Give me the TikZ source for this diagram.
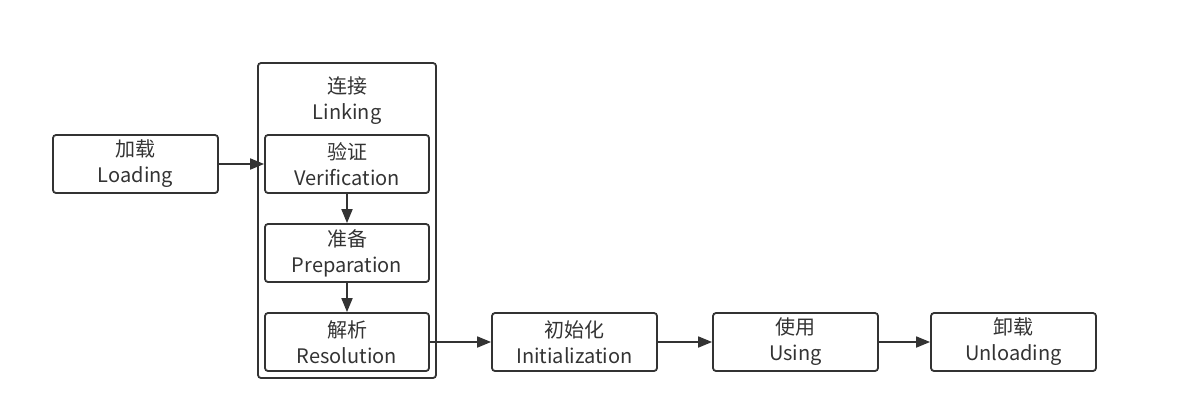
\documentclass[tikz,border=0pt]{standalone}
\usepackage{fontspec}
\setmainfont{Noto Sans CJK SC}
\usetikzlibrary{arrows.meta}
\definecolor{ln}{HTML}{333333}
\definecolor{tx}{HTML}{333333}
\tikzset{
  stage/.style={draw=ln, line width=1.8pt, rounded corners=3pt, minimum width=165pt, minimum height=58pt, inner sep=0pt, align=center, text=tx, font=\fontsize{20}{26}\selectfont},
  group/.style={draw=ln, line width=1.8pt, rounded corners=3pt, inner sep=0pt},
  conn/.style={draw=ln, line width=1.8pt, -{Triangle[length=14pt,width=11pt]}},
  lbl/.style={inner sep=0pt, align=center, text=tx, font=\fontsize{20}{26}\selectfont}
}
\begin{document}
\begin{tikzpicture}[x=1pt,y=-1pt]
\useasboundingbox (0,0) rectangle (1188,405);
\node[group, minimum width=178pt, minimum height=315pt] (link) at (347,220.5) {};
\node[lbl] (linklbl) at (347,101) {连接\\Linking};
\node[stage] (load) at (135.5,164) {加载\\Loading};
\node[stage, minimum width=164pt] (ver) at (347,164) {验证\\Verification};
\node[stage, minimum width=164pt] (prep) at (347,253) {准备\\Preparation};
\node[stage, minimum width=164pt] (res) at (347,342) {解析\\Resolution};
\node[stage] (init) at (574.5,342) {初始化\\Initialization};
\node[stage] (use) at (795.5,342) {使用\\Using};
\node[stage] (unl) at (1013.5,342) {卸载\\Unloading};
\draw[conn] (load) -- (ver);
\draw[conn] (ver) -- (prep);
\draw[conn] (prep) -- (res);
\draw[conn] (res) -- (init);
\draw[conn] (init) -- (use);
\draw[conn] (use) -- (unl);
\end{tikzpicture}
\end{document}
